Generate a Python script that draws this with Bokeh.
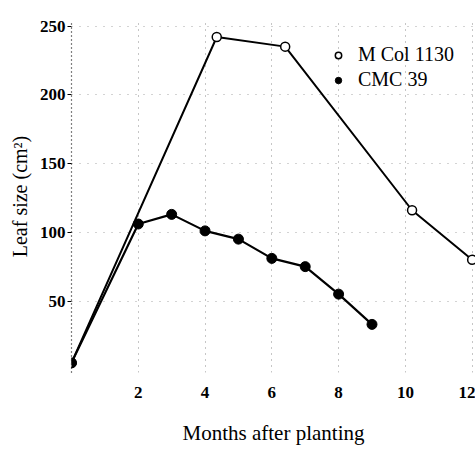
from bokeh.plotting import figure
from bokeh.models import Range1d, FixedTicker, Legend, LegendItem
from bokeh.embed import file_html
from bokeh.resources import INLINE

# Leaf size (cm^2) against months after planting, two cassava cultivars
mcol_months = [0, 4.35, 6.4, 10.2, 12.0]
mcol_leaf = [5, 242, 235, 116, 80]

cmc_months = [0, 2, 3, 4, 5, 6, 7, 8, 9]
cmc_leaf = [5, 106, 113, 101, 95, 81, 75, 55, 33]

x_ticks = [2, 4, 6, 8, 10, 12]
y_ticks = [50, 100, 150, 200, 250]

SERIF = "Liberation Serif"

p = figure(
    width=475, height=456,
    frame_width=404, frame_height=352,
    min_border_left=71, min_border_right=0,
    min_border_top=20, min_border_bottom=84,
    x_range=Range1d(0, 12.1), y_range=Range1d(-2, 254),
    output_backend="svg", toolbar_location=None,
    background_fill_color="white", border_fill_color="white",
)
p.outline_line_color = None

# axes
p.xaxis.ticker = FixedTicker(ticks=x_ticks)
p.yaxis.ticker = FixedTicker(ticks=y_ticks)
p.xaxis.axis_line_color = None
p.xaxis.major_tick_line_color = None
p.xaxis.minor_tick_line_color = None
p.xaxis.major_label_standoff = 8
p.xaxis.axis_label = "Months after planting"
p.xaxis.axis_label_standoff = 20
p.xaxis.axis_label_text_font = SERIF
p.xaxis.axis_label_text_font_style = "normal"
p.xaxis.axis_label_text_font_size = "21px"

p.yaxis.axis_line_dash = "1 3"
p.yaxis.axis_line_width = 1.2
p.yaxis.major_tick_out = 4
p.yaxis.major_tick_in = 0
p.yaxis.minor_tick_line_color = None
p.yaxis.major_label_standoff = 2
p.yaxis.axis_label = "Leaf size (cm\u00b2)"
p.yaxis.axis_label_standoff = 6
p.yaxis.axis_label_text_font = SERIF
p.yaxis.axis_label_text_font_style = "normal"
p.yaxis.axis_label_text_font_size = "20px"

for ax in (p.xaxis, p.yaxis):
    ax.major_label_text_font = SERIF
    ax.major_label_text_font_style = "bold"
    ax.major_label_text_font_size = "17px"
    ax.major_label_text_color = "black"
    ax.axis_label_text_color = "black"

# sparse dotted guide lines
p.xgrid.grid_line_color = "black"
p.xgrid.grid_line_dash = "1 5"
p.xgrid.grid_line_alpha = 0.45
p.ygrid.grid_line_color = "black"
p.ygrid.grid_line_dash = "1 7"
p.ygrid.grid_line_alpha = 0.35

# series
p.line(mcol_months, mcol_leaf, line_color="black", line_width=2)
r_mcol = p.scatter(mcol_months, mcol_leaf, marker="circle", size=9,
                   fill_color="white", line_color="black", line_width=1.5)

p.line(cmc_months, cmc_leaf, line_color="black", line_width=2.2)
r_cmc = p.scatter(cmc_months, cmc_leaf, marker="circle", size=10,
                  fill_color="black", line_color="black")

legend = Legend(
    items=[LegendItem(label="M Col 1130", renderers=[r_mcol]),
           LegendItem(label="CMC 39", renderers=[r_cmc])],
    location=(259, 281),
    border_line_color=None,
    background_fill_alpha=0,
    label_text_font=SERIF,
    label_text_font_size="20px",
    label_text_color="black",
    glyph_width=16, glyph_height=16,
    label_standoff=12,
    spacing=2,
    margin=0,
    padding=0,
)
p.add_layout(legend)

open("out.html", "w").write(file_html(p, INLINE))
